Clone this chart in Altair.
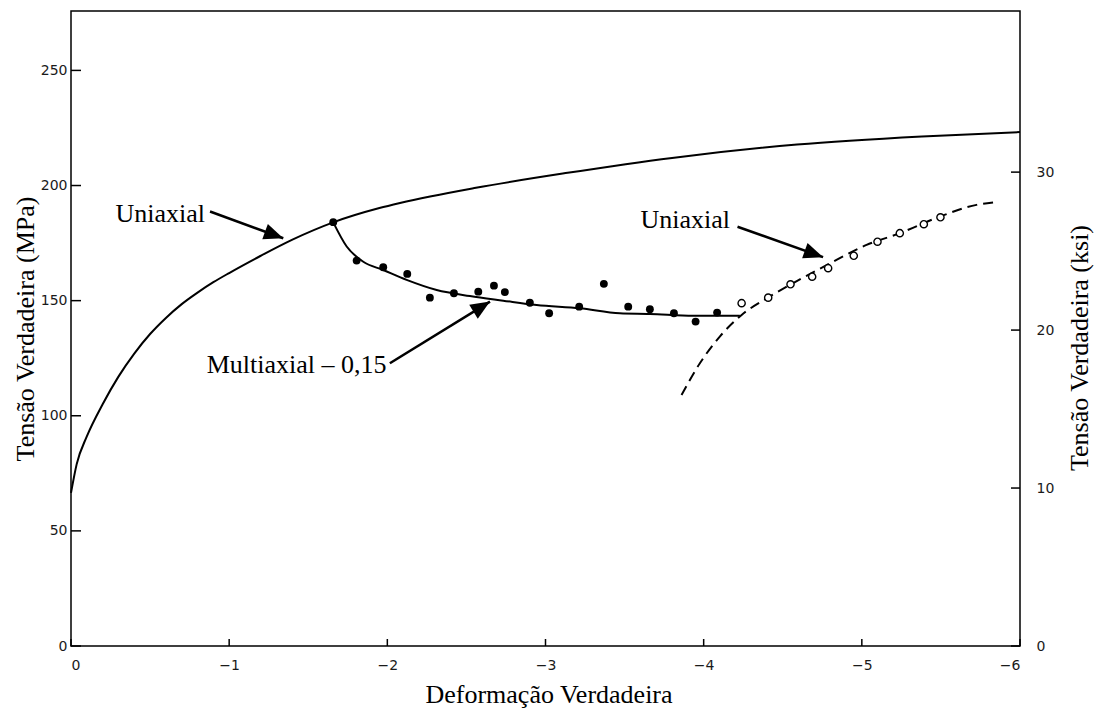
import math
import altair as alt
import pandas as pd

# ---------------- data ----------------
# Uniaxial (solid) curve: true strain, true stress (MPa)
uni_x = [0, -0.036, -0.1, -0.2, -0.3, -0.4, -0.5, -0.6, -0.7, -0.8, -0.9, -1.0,
         -1.2, -1.4, -1.658, -1.95, -2.08, -2.56, -3.14, -3.80, -4.59, -5.38, -6.0]
uni_y = [66.5, 79.0, 91.0, 105.0, 117.0, 127.0, 135.5, 142.5, 148.5, 153.5, 158.0, 162.0,
         169.5, 176.5, 184.0, 190.2, 192.4, 199.0, 205.5, 212.0, 217.8, 221.3, 223.2]

# Multiaxial - 0,15 fitted curve
multi_x = [-1.658, -1.743, -1.848, -1.974, -2.122, -2.312, -2.522, -2.733, -2.944, -3.217,
           -3.470, -3.660, -3.934, -4.229]
multi_y = [184.0, 173.5, 166.9, 163.3, 159.0, 154.6, 152.0, 150.0, 148.1, 146.7,
           144.5, 144.2, 143.4, 143.4]

# Uniaxial reload (dashed) curve
dash_x = [-3.860, -3.976, -4.102, -4.240, -4.398, -4.566, -4.78, -5.030, -5.240, -5.493, -5.725, -5.830]
dash_y = [109.0, 122.8, 134.4, 143.8, 151.0, 157.6, 165.5, 174.2, 179.3, 186.5, 191.6, 192.6]

# Filled points (multiaxial test)
dots_x = [-1.658, -1.806, -1.974, -2.126, -2.269, -2.421, -2.575, -2.674, -2.743, -2.901,
          -3.023, -3.213, -3.369, -3.523, -3.660, -3.812, -3.949, -4.085]
dots_y = [184.1, 167.4, 164.5, 161.6, 151.3, 153.2, 153.9, 156.5, 153.7, 149.1,
          144.5, 147.4, 157.3, 147.4, 146.3, 144.5, 140.9, 144.8]

# Open points (uniaxial reload)
open_x = [-4.240, -4.408, -4.549, -4.686, -4.787, -4.949, -5.099, -5.240, -5.392, -5.497]
open_y = [148.9, 151.3, 157.1, 160.4, 164.1, 169.5, 175.6, 179.3, 183.2, 186.2]

# Annotations
ann_text = ["Uniaxial", "Multiaxial \u2013 0,15", "Uniaxial"]
ann_x = [-0.847, -1.995, -4.166]
ann_y = [184.3, 118.5, 181.4]

arrow_x_start = [-0.879, -2.016, -4.214]
arrow_y_start = [188.7, 122.8, 182.1]
arrow_x_tip = [-1.342, -2.649, -4.755]
arrow_y_tip = [177.1, 149.6, 168.9]

# Tick labels
x_ticks = [0, -1, -2, -3, -4, -5, -6]
mpa_ticks = [0, 50, 100, 150, 200, 250]
ksi_ticks = [0, 10, 20, 30]

# ---------------- layout ----------------
W, H = 949, 635
LEFT, TOP = 71, 11
MPA_MAX = 275.8
KSI_MAX = 40.2
px_per_x = W / 6.0
px_per_y = H / MPA_MAX

LABEL_FONT = "DejaVu Sans"
SERIF = "Liberation Serif"

x_scale = alt.Scale(domain=[-6, 0], reverse=True, nice=False, zero=False)
y_scale = alt.Scale(domain=[0, MPA_MAX], nice=False, zero=False)

X = alt.X("x:Q", scale=x_scale,
          axis=alt.Axis(values=x_ticks, ticks=False, domain=False, grid=False,
                        labelFont=LABEL_FONT, labelFontSize=14, labelColor="#1a1a1a",
                        labelPadding=12, format="d",
                        title="Deformação Verdadeira", titleFont=SERIF, titleFontSize=26,
                        titleFontWeight="normal", titleColor="black",
                        titleX=477.5, titleY=56, titleAlign="center",
                        titleBaseline="alphabetic"))
Y = alt.Y("y:Q", scale=y_scale,
          axis=alt.Axis(values=mpa_ticks, ticks=False, domain=False, grid=False,
                        labelFont=LABEL_FONT, labelFontSize=14, labelColor="#1a1a1a",
                        labelPadding=4,
                        title="Tensão Verdadeira (MPa)", titleFont=SERIF, titleFontSize=26,
                        titleFontWeight="normal", titleColor="black",
                        titleAngle=270, titleX=-46, titleY=H / 2,
                        titleAlign="center", titleBaseline="middle"))
ORDER = alt.Order("i:Q")


def line_df(xs, ys):
    return pd.DataFrame({"x": xs, "y": ys, "i": list(range(len(xs)))})


uni_df = line_df(uni_x, uni_y)
multi_df = line_df(multi_x, multi_y)
dash_df = line_df(dash_x, dash_y)
dots_df = pd.DataFrame({"x": dots_x, "y": dots_y})
open_df = pd.DataFrame({"x": open_x, "y": open_y})
ann_df = pd.DataFrame({"x": ann_x, "y": ann_y, "t": ann_text})

angles = []
for xs, ys, xt, yt in zip(arrow_x_start, arrow_y_start, arrow_x_tip, arrow_y_tip):
    dx = -(xt - xs) * px_per_x
    dy = -(yt - ys) * px_per_y
    angles.append(math.degrees(math.atan2(dx, -dy)) % 360)
arrow_df = pd.DataFrame({"x": arrow_x_start, "y": arrow_y_start,
                         "x2": arrow_x_tip, "y2": arrow_y_tip})
head_df = pd.DataFrame({"x": arrow_x_tip, "y": arrow_y_tip, "angle": angles})

xtick_df = pd.DataFrame({"x": x_ticks})
ytick_df = pd.DataFrame({"y": mpa_ticks})
ksi_df = pd.DataFrame({"y": ksi_ticks})

uni = alt.Chart(uni_df).mark_line(color="black", strokeWidth=2,
                                  interpolate="monotone").encode(x=X, y=Y, order=ORDER)
multi = alt.Chart(multi_df).mark_line(color="black", strokeWidth=2,
                                      interpolate="monotone").encode(x=X, y=Y, order=ORDER)
dashed = alt.Chart(dash_df).mark_line(color="black", strokeWidth=2, strokeDash=[10, 6],
                                      interpolate="monotone").encode(x=X, y=Y, order=ORDER)
dots = alt.Chart(dots_df).mark_point(shape="circle", filled=True, color="black",
                                     size=62, opacity=1).encode(x=X, y=Y)
opens = alt.Chart(open_df).mark_point(shape="circle", fill="white", stroke="black",
                                      strokeWidth=1.4, size=52, opacity=1,
                                      fillOpacity=1).encode(x=X, y=Y)
texts = alt.Chart(ann_df).mark_text(font=SERIF, fontSize=26, align="right",
                                    baseline="alphabetic", color="black").encode(
    x=X, y=Y, text="t:N")
arrows = alt.Chart(arrow_df).mark_rule(color="black", strokeWidth=2.5,
                                       strokeCap="butt").encode(
    x=X, y=Y, x2=alt.X2("x2:Q"), y2=alt.Y2("y2:Q"))
heads = alt.Chart(head_df).mark_point(shape="M0,0L-0.42,1L0.42,1Z", filled=True,
                                      color="black", size=1500, opacity=1).encode(
    x=X, y=Y, angle=alt.Angle("angle:Q", scale=None))
xticks = alt.Chart(xtick_df).mark_rule(color="black", strokeWidth=1.5).encode(
    x=X, y=alt.value(H), y2=alt.value(H - 7))
yticks = alt.Chart(ytick_df).mark_rule(color="black", strokeWidth=1.5).encode(
    y=Y, x=alt.value(0), x2=alt.value(10))

mpa_layer = alt.layer(uni, multi, dashed, opens, dots, arrows, heads, texts,
                      xticks, yticks)

ksi_layer = alt.Chart(ksi_df).mark_rule(color="black", strokeWidth=1.5).encode(
    y=alt.Y("y:Q", scale=alt.Scale(domain=[0, KSI_MAX], nice=False, zero=False),
            axis=alt.Axis(orient="right", values=ksi_ticks, ticks=False, domain=False,
                          grid=False, labelFont=LABEL_FONT, labelFontSize=14,
                          labelColor="#1a1a1a", labelPadding=16,
                          title="Tensão Verdadeira (ksi)", titleFont=SERIF,
                          titleFontSize=26, titleFontWeight="normal", titleColor="black",
                          titleAngle=270, titleX=59, titleY=336.5,
                          titleAlign="center", titleBaseline="middle")),
    x=alt.value(W), x2=alt.value(W - 9))

chart = alt.layer(mpa_layer, ksi_layer).resolve_scale(y="independent").properties(
    width=W, height=H,
    autosize=alt.AutoSizeParams(type="none"),
    padding={"left": LEFT, "top": TOP, "right": 1101 - LEFT - W, "bottom": 709 - TOP - H},
    background="white",
).configure_view(stroke="black", strokeWidth=1.5)

chart.save("out.html", embed_options={"renderer": "svg", "actions": False})
